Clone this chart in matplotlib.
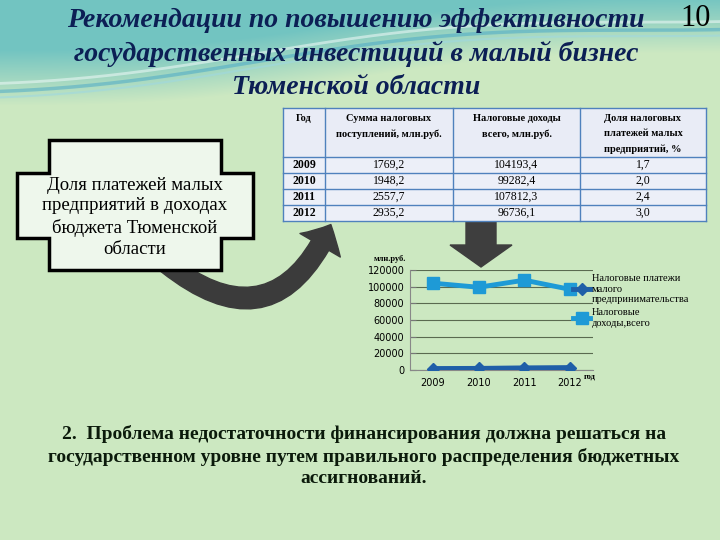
import numpy as np
import matplotlib
matplotlib.use("Agg")
import matplotlib.pyplot as plt
from matplotlib.patches import Polygon, FancyArrowPatch, FancyArrow, Rectangle

# =========================
# DATOS
# =========================

years = ["2009", "2010", "2011", "2012"]
small_tax = [1769.2, 1948.2, 2557.7, 2935.2]
total_tax = [104193.4, 99282.4, 107812.3, 96736.1]
share_pct = [1.7, 2.0, 2.4, 3.0]

table_headers = ["Год", "Сумма налоговых\nпоступлений, млн.руб.",
                 "Налоговые доходы\nвсего, млн.руб.",
                 "Доля налоговых\nплатежей малых\nпредприятий, %"]
series_names = ["Налоговые платежи\nмалого\nпредпринимательства",
                "Налоговые\nдоходы,всего"]

title_lines = ["Рекомендации по повышению эффективности",
               "государственных инвестиций в малый бизнес",
               "Тюменской области"]
box_text = "Доля платежей малых\nпредприятий в доходах\nбюджета Тюменской\nобласти"
bottom_text = ("2.  Проблема недостаточности финансирования должна решаться на\n"
               "государственном уровне путем правильного распределения бюджетных\n"
               "ассигнований.")

SERIF = ["Liberation Serif", "DejaVu Serif"]

def fmt(v, nd=1):
    return f"{v:.{nd}f}".replace(".", ",")

# =========================
# FONDO
# =========================

fig = plt.figure(figsize=(7.2, 5.4), dpi=100)
bg = fig.add_axes([0, 0, 1, 1])
bg.set_xlim(0, 720)
bg.set_ylim(540, 0)
bg.axis("off")

green = np.array([0.80, 0.91, 0.76])
teal = np.array([0.45, 0.77, 0.76])
xx, yy = np.meshgrid(np.arange(720), np.arange(540))
edge = 85 - 55 * (xx / 720) + 8 * np.sin(xx / 110)
t = np.clip((yy - edge + 35) / 55, 0, 1)[..., None]
img = teal * (1 - t) + green * t
bg.imshow(img, extent=[0, 720, 540, 0], aspect="auto", zorder=0)

# ondas decorativas
wx = np.linspace(0, 720, 200)
for off, col, lw, a in [(0, "#e8f6f4", 2, 0.6), (8, "#3aa0c8", 2.5, 0.45), (14, "#9fd8e0", 1.5, 0.6)]:
    wy = 75 - 60 * (wx / 720) + 10 * np.sin(wx / 120 + 1) + off
    bg.plot(wx, wy, color=col, lw=lw, alpha=a, zorder=1)

# =========================
# TITULO
# =========================

for i, line in enumerate(title_lines):
    bg.text(356, 20 + i * 33.5, line, ha="center", va="center", fontsize=20,
            family=SERIF, weight="bold", style="italic", color="#0c1f55", zorder=5)
bg.text(696, 18, "10", ha="center", va="center", fontsize=22, family=SERIF,
        color="black", zorder=5)

# =========================
# FLECHAS
# =========================

arc = FancyArrowPatch((165, 262), (332, 222), connectionstyle="arc3,rad=0.65",
                      arrowstyle="simple,head_length=1.4,head_width=2.8,tail_width=1.2",
                      mutation_scale=12, color="#3b3b3b", zorder=2)
bg.add_patch(arc)
bg.add_patch(FancyArrow(481, 221, 0, 46, width=30, head_width=62, head_length=22,
                        length_includes_head=True, color="#3e3e3e", zorder=2))

# =========================
# CUADRO
# =========================

cross = [(49, 140), (221, 140), (221, 173), (253, 173), (253, 238), (221, 238),
         (221, 270), (49, 270), (49, 238), (17, 238), (17, 173), (49, 173)]
bg.add_patch(Polygon(cross, closed=True, facecolor="#eef7ec", edgecolor="black",
                     lw=2.5, zorder=3))
bg.text(135, 217, box_text, ha="center", va="center", fontsize=13.5, family=SERIF,
        linespacing=1.3, zorder=4)

# =========================
# TABLA
# =========================

col_x = [283, 325, 453, 580, 706]
top, head_bot, row_h = 108, 157, 16
bg.add_patch(Rectangle((col_x[0], top), col_x[-1] - col_x[0], head_bot - top,
                       facecolor="#e9ecf6", edgecolor="none", zorder=3))
bg.add_patch(Rectangle((col_x[0], head_bot), col_x[-1] - col_x[0], row_h * len(years),
                       facecolor="#eceff8", edgecolor="none", zorder=3))
bottom = head_bot + row_h * len(years)
for x in col_x:
    bg.plot([x, x], [top, bottom], color="#4f81bd", lw=1, zorder=4)
for y in [top, head_bot] + [head_bot + row_h * (i + 1) for i in range(len(years))]:
    bg.plot([col_x[0], col_x[-1]], [y, y], color="#4f81bd", lw=1, zorder=4)

for j, h in enumerate(table_headers):
    cx = (col_x[j] + col_x[j + 1]) / 2
    bg.text(cx, top + 6, h, ha="center", va="top", fontsize=7.5, family=SERIF,
            weight="bold", linespacing=1.85, zorder=5)

for i, yr in enumerate(years):
    cy = head_bot + row_h * (i + 0.5)
    vals = [yr, fmt(small_tax[i]), fmt(total_tax[i]), fmt(share_pct[i])]
    for j, v in enumerate(vals):
        cx = (col_x[j] + col_x[j + 1]) / 2
        bg.text(cx, cy, v, ha="center", va="center", fontsize=8.5, family=SERIF,
                weight="bold" if j == 0 else "normal", zorder=5)

# =========================
# GRAFICA
# =========================

ax = fig.add_axes([410 / 720, 1 - 370 / 540, 183 / 720, 100 / 540])
ax.set_facecolor("none")
xpos = np.arange(len(years))
ax.plot(xpos, small_tax, color="#1f5fa8", lw=3.5, marker="D", markersize=6,
        label=series_names[0], zorder=3)
ax.plot(xpos, total_tax, color="#1e9ad6", lw=3.5, marker="s", markersize=8,
        label=series_names[1], zorder=3)
ax.set_xlim(-0.5, len(years) - 0.5)
ax.set_ylim(0, 120000)
ax.set_yticks(np.arange(0, 120001, 20000))
ax.set_yticklabels([str(v) for v in range(0, 120001, 20000)], fontsize=7)
ax.set_xticks(xpos)
ax.set_xticklabels(years, fontsize=7)
ax.tick_params(axis="x", length=0, pad=6)
ax.tick_params(axis="y", length=4, color="#777777", direction="in", pad=4)
ax.grid(axis="y", color="#5a6a50", lw=0.8)
for s in ["top", "right"]:
    ax.spines[s].set_visible(False)
for s in ["left", "bottom"]:
    ax.spines[s].set_color("#888888")
ax.text(-0.02, 1.07, "млн.руб.", transform=ax.transAxes, ha="right", va="bottom",
        fontsize=6, family=SERIF, weight="bold")
ax.text(0.95, -0.03, "год", transform=ax.transAxes, ha="left", va="top",
        fontsize=6, family=SERIF, weight="bold")

leg = ax.legend(loc="upper left", bbox_to_anchor=(0.87, 1.0), frameon=False,
                prop={"family": SERIF, "size": 7.5}, handlelength=1.6,
                handletextpad=0.2, labelspacing=0.4, borderaxespad=0)

# =========================
# TEXTO INFERIOR
# =========================

bg.text(364, 456, bottom_text, ha="center", va="center", fontsize=14, family=SERIF,
        weight="bold", color="#0b1a0b", linespacing=1.3, zorder=5)

fig.savefig("out.png", dpi=100)
